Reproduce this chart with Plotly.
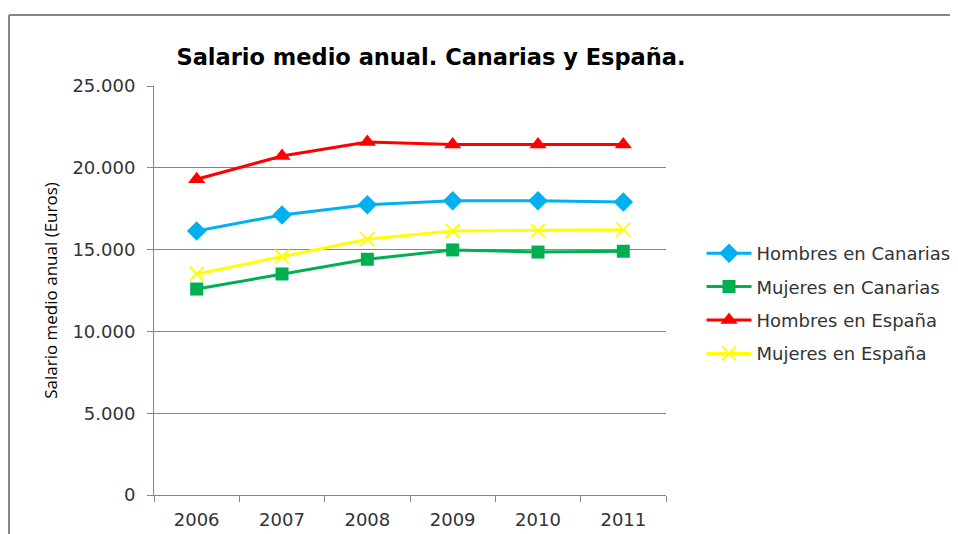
import plotly.graph_objects as go

years = ["2006", "2007", "2008", "2009", "2010", "2011"]
hombres_canarias = [16140, 17120, 17740, 17990, 17990, 17910]
mujeres_canarias = [12590, 13510, 14410, 14980, 14850, 14900]
hombres_espana = [19300, 20720, 21580, 21420, 21420, 21420]
mujeres_espana = [13510, 14570, 15630, 16140, 16160, 16220]
y_ticks = [0, 5000, 10000, 15000, 20000, 25000]
y_tick_labels = ["0", "5.000", "10.000", "15.000", "20.000", "25.000"]

# page body has an 8px margin, so work in figure coordinates = page - 8
OFF = 8
W, H = 958 - OFF, 534 - OFF
L, R, T, B = 154 - OFF, 666 - OFF, 86 - OFF, 495 - OFF

fig = go.Figure()
series = [
    ("Hombres en Canarias", hombres_canarias, "#00B0F0", "diamond", 15),
    ("Mujeres en Canarias", mujeres_canarias, "#00B050", "square", 13),
    ("Hombres en España", hombres_espana, "#FF0000", "triangle-up", 15),
    ("Mujeres en España", mujeres_espana, "#FFFF00", "x-thin-open", 14),
]
for i, (name, vals, col, sym, size) in enumerate(series):
    marker = dict(symbol=sym, size=size, color=col)
    if sym.startswith("x-thin"):
        marker["line"] = dict(color=col, width=2)
    else:
        marker["line"] = dict(width=0)
    fig.add_trace(go.Scatter(x=years, y=vals, mode="lines+markers", name=name,
                             legendgroup=f"g{i}",
                             line=dict(color=col, width=3), marker=marker))

font = "DejaVu Sans"
txt = "#333333"
fig.update_layout(
    width=W, height=H,
    margin=dict(l=L, r=W - R, t=T, b=H - B, pad=0, autoexpand=False),
    paper_bgcolor="white", plot_bgcolor="white",
    title=dict(text="<b>Salario medio anual. Canarias y España.</b>",
               font=dict(family=font, size=22.5, color="#000000"),
               x=((176 + 686) / 2 - OFF) / W, xanchor="center",
               y=1 - (57 - OFF) / H, yanchor="middle"),
    showlegend=True,
    legend=dict(x=(701.5 - 154) / (666 - 154), xanchor="left",
                y=(495 - 235) / (495 - 86), yanchor="top",
                font=dict(family=font, size=18, color=txt),
                itemwidth=45, traceorder="grouped", tracegroupgap=7,
                bgcolor="rgba(0,0,0,0)"),
    xaxis=dict(type="category", tickson="boundaries", ticks="outside", ticklen=6,
               tickcolor="#868686", showline=True, linecolor="#868686", linewidth=1,
               showgrid=False, tickfont=dict(family=font, size=18, color=txt),
               ticklabelstandoff=8, range=[-0.5, 5.5], automargin=False),
    yaxis=dict(range=[0, 25000], tickvals=y_ticks, ticktext=y_tick_labels,
               ticks="outside", ticklen=6, tickcolor="#868686",
               showline=True, linecolor="#868686", linewidth=1,
               showgrid=True, gridcolor="#868686", gridwidth=1, zeroline=False,
               tickfont=dict(family=font, size=18, color=txt), ticklabelstandoff=8,
               automargin=False,
               title=dict(text="Salario medio anual (Euros)",
                          font=dict(family="Open Sans", size=17, color="#000000"),
                          standoff=10)),
)

# outer chart frame (clipped at the right and bottom edges)
x0 = (9 - 154) / (666 - 154)
x1 = (958 - 154) / (666 - 154)
y0 = (495 - 15) / (495 - 86)
fig.add_shape(type="line", xref="paper", yref="paper", x0=x0, x1=x0, y0=-0.2, y1=y0,
              line=dict(color="#868686", width=2))
fig.add_shape(type="line", xref="paper", yref="paper", x0=x0, x1=x1, y0=y0, y1=y0,
              line=dict(color="#868686", width=2))

fig.write_html("out.html")
